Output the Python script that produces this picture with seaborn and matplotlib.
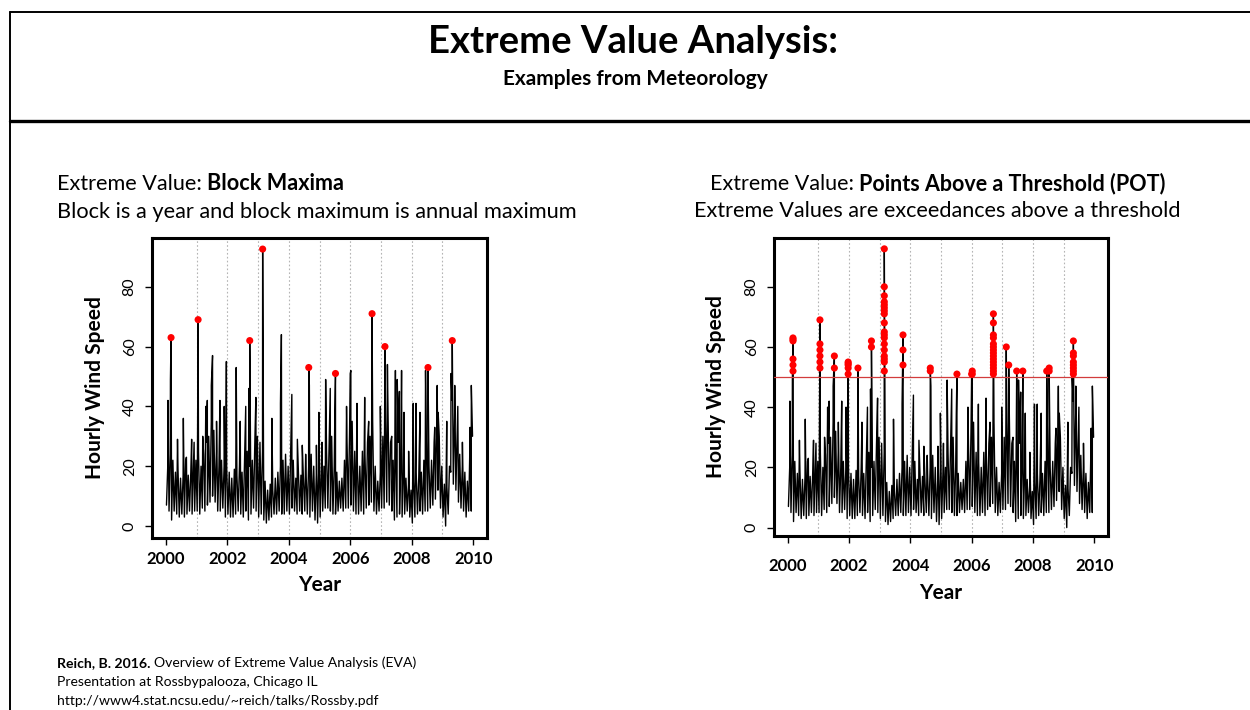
import numpy as np
import pandas as pd
import matplotlib
matplotlib.use("Agg")
import matplotlib.pyplot as plt
from matplotlib.lines import Line2D
import seaborn as sns

# ---------------- data ----------------
years = list(range(2000, 2010))

# monthly lower edge of the dense hourly band (120 months, 2000-2009)
band_lo = [
    7, 5, 2, 5, 4, 3, 4, 3, 4, 5, 4, 5,
    5, 4, 6, 5, 7, 8, 10, 8, 5, 5, 6, 3,
    4, 3, 3, 4, 5, 4, 3, 5, 2, 4, 6, 5,
    3, 4, 2, 1, 2, 3, 4, 4, 5, 4, 4, 5,
    4, 6, 5, 4, 5, 4, 5, 4, 3, 5, 2, 1,
    3, 5, 6, 6, 5, 4, 4, 5, 6, 5, 6, 6,
    7, 5, 4, 4, 5, 4, 6, 7, 8, 5, 4, 5,
    6, 6, 8, 7, 5, 2, 3, 4, 3, 4, 5, 3,
    1, 3, 4, 5, 4, 5, 5, 6, 7, 9, 12, 6,
    3, 0, 4, 18, 14, 12, 8, 6, 5, 3, 5, 5,
]
# monthly upper edge of the dense hourly band
band_hi = [
    20, 24, 22, 18, 19, 16, 17, 22, 17, 18, 20, 22,
    25, 20, 24, 28, 30, 35, 32, 25, 20, 22, 20, 20,
    18, 16, 19, 17, 20, 18, 22, 25, 20, 22, 28, 30,
    28, 25, 15, 12, 14, 12, 16, 18, 20, 22, 24, 20,
    25, 22, 16, 18, 17, 15, 18, 20, 24, 20, 17, 20,
    18, 20, 25, 28, 30, 20, 18, 15, 16, 22, 28, 32,
    35, 25, 22, 20, 25, 24, 28, 30, 35, 20, 15, 18,
    30, 35, 38, 28, 22, 26, 28, 22, 18, 16, 14, 12,
    15, 18, 16, 18, 22, 25, 20, 22, 28, 32, 30, 20,
    14, 13, 20, 42, 38, 30, 24, 20, 18, 15, 28, 30,
]

# isolated spikes of the hourly series
spike_year = [
    2000.07, 2000.15, 2000.17, 2000.38, 2000.57, 2000.67, 2000.84, 2000.92,
    2001.05, 2001.20, 2001.30, 2001.35, 2001.48, 2001.52, 2001.65, 2001.76, 2001.90, 2001.97,
    2002.29, 2002.42, 2002.60, 2002.70, 2002.73, 2002.93,
    2003.15, 2003.45, 2003.73, 2003.76,
    2004.10, 2004.28, 2004.44, 2004.55, 2004.65, 2004.67, 2004.90, 2004.98,
    2005.08, 2005.20, 2005.35, 2005.50, 2005.52, 2005.88, 2006.00,
    2006.02, 2006.22, 2006.47, 2006.60, 2006.71, 2006.98,
    2007.13, 2007.21, 2007.35, 2007.47, 2007.53, 2007.60, 2007.67, 2007.75, 2007.90,
    2008.05, 2008.14, 2008.27, 2008.45, 2008.53, 2008.75, 2008.83, 2008.86,
    2009.14, 2009.28, 2009.32, 2009.40, 2009.50, 2009.65, 2009.90, 2009.94,
]
spike_speed = [
    42, 49, 63, 29, 36, 23, 29, 28,
    69, 30, 40, 42, 47, 57, 35, 42, 40, 55,
    53, 35, 40, 46, 62, 43,
    92.6, 36, 41, 64,
    44, 29, 27, 24, 53, 47, 27, 38,
    28, 49, 46, 38, 51, 40, 51,
    52, 41, 43, 35, 71, 40,
    60, 54, 30, 52, 49, 45, 52, 38, 25,
    41, 41, 38, 52, 53, 33, 47, 38,
    35, 51, 62, 47, 40, 28, 33, 47,
]

# annual maxima (block maxima)
max_year = [2000.17, 2001.05, 2002.73, 2003.15, 2004.65, 2005.52, 2006.71, 2007.13, 2008.53, 2009.32]
max_speed = [63, 69, 62, 92.6, 53, 51, 71, 60, 53, 62]

# exceedances above the threshold (POT)
threshold = 50
pot_year = (
    [2000.17] * 6 + [2001.05] * 6 + [2001.52] * 2 + [2001.97] * 5 + [2002.29] + [2002.73] * 2
    + [2003.15] * 18 + [2003.76] * 3 + [2004.65] * 2 + [2005.52] + [2006.00] + [2006.02] * 2
    + [2006.71] * 15 + [2007.13] + [2007.21] + [2007.47] + [2007.67] + [2008.45] + [2008.53] * 2
    + [2009.32] * 8
)
pot_speed = (
    [63, 62.5, 62, 56, 54, 52]
    + [69, 61, 59, 57, 55, 53]
    + [57, 53]
    + [55, 54.5, 54, 53, 51]
    + [53]
    + [62, 60]
    + [92.6, 80, 77, 75, 74, 73, 72, 71, 68, 65, 64, 63, 61, 59, 57, 56, 55, 52]
    + [64, 59, 54]
    + [53, 52]
    + [51]
    + [51]
    + [52, 51]
    + [71, 68, 64, 63, 61, 60, 59, 58, 57, 56, 55, 54, 53, 52, 51]
    + [60]
    + [54]
    + [52]
    + [52]
    + [52]
    + [53, 52]
    + [62, 58, 57, 55, 54, 53, 52, 51]
)

x_ticks = [2000, 2002, 2004, 2006, 2008, 2010]
y_ticks = [0, 20, 40, 60, 80]
grid_years = list(range(2001, 2010))

# ---------------- build the hourly-like series ----------------
n_months = len(band_lo)
t_lo = [2000 + (i + 0.25) / 12 for i in range(n_months)]
t_hi = [2000 + (i + 0.75) / 12 for i in range(n_months)]
series = pd.DataFrame({
    "year": t_lo + t_hi + spike_year,
    "speed": band_lo + band_hi + spike_speed,
}).sort_values("year").reset_index(drop=True)

max_df = pd.DataFrame({"year": max_year, "speed": max_speed})
pot_df = pd.DataFrame({"year": pot_year, "speed": pot_speed})

# ---------------- figure ----------------
sns.set_theme(style="white")
plt.rcParams["font.family"] = ["Lato", "DejaVu Sans"]
plt.rcParams["text.color"] = "black"
plt.rcParams["axes.labelcolor"] = "black"
plt.rcParams["xtick.color"] = "black"
plt.rcParams["ytick.color"] = "black"

W, H = 1250, 710
fig = plt.figure(figsize=(W / 100, H / 100), dpi=100)
fig.patch.set_facecolor("white")


def fx(px):
    return px / W


def fy(py):
    return 1 - py / H


# slide frame lines
fig.add_artist(Line2D([fx(10), 1.0], [fy(12), fy(12)], color="black", lw=1.4))
fig.add_artist(Line2D([fx(10), fx(10)], [fy(12), 0.0], color="black", lw=1.4))
fig.add_artist(Line2D([fx(10), 1.0], [fy(121), fy(121)], color="black", lw=2.4))

fig.text(fx(633), fy(42), "Extreme Value Analysis:", ha="center", va="center",
         fontsize=27.5, fontweight="bold")
fig.text(fx(635), fy(79), "Examples from Meteorology", ha="center", va="center",
         fontsize=15, fontweight="bold")

renderer = fig.canvas.get_renderer()


def rich_line(parts, x_px, y_px, size, align="left", gap=5):
    widths = []
    for txt, wt in parts:
        t = fig.text(0, 0, txt, fontsize=size, fontweight=wt)
        widths.append(t.get_window_extent(renderer).width)
        t.remove()
    total = sum(widths) + gap * (len(parts) - 1)
    x0 = x_px - total / 2 if align == "center" else x_px
    for (txt, wt), w in zip(parts, widths):
        fig.text(fx(x0), fy(y_px), txt, fontsize=size, fontweight=wt, ha="left", va="center")
        x0 += w + gap


rich_line([("Extreme Value:", "normal"), ("Block Maxima", "bold")], 57, 184, 15.6)
rich_line([("Block is a year and block maximum is annual maximum", "normal")], 57, 212, 15.7)
rich_line([("Extreme Value:", "normal"), ("Points Above a Threshold (POT)", "bold")], 938, 184, 15.5,
          align="center")
rich_line([("Extreme Values are exceedances above a threshold", "normal")], 937, 211, 15.6,
          align="center")

rich_line([("Reich, B. 2016.", "bold"), ("Overview of Extreme Value Analysis (EVA)", "normal")], 57, 663, 10.1,
          gap=4)
rich_line([("Presentation at Rossbypalooza, Chicago IL", "normal")], 57, 682, 10.1)
rich_line([("http://www4.stat.ncsu.edu/~reich/talks/Rossby.pdf", "normal")], 57, 701, 10.1)

axL = fig.add_axes([fx(152), fy(538), 335 / W, 300 / H])
axR = fig.add_axes([fx(774), fy(536), 334 / W, 298 / H])

panels = [
    (axL, (-4.0, 96.3), 4, (318, 585), (95, 401)),
    (axR, (-2.8, 96.2), 11, (945, 593), (716, 406)),
]

for ax, ylim, xpad, xlab_pos, ylab_pos in panels:
    ax.set_facecolor("white")
    for gx in grid_years:
        ax.axvline(gx, color="#b4b4b4", lw=0.8, ls=(0, (1.5, 2)), zorder=0)
    sns.lineplot(data=series, x="year", y="speed", ax=ax, color="black", lw=1.0,
                 estimator=None, sort=False, zorder=2)
    ax.set_xlim(1999.55, 2010.45)
    ax.set_ylim(*ylim)
    ax.set_xticks(x_ticks, labels=[str(v) for v in x_ticks], fontsize=12, fontweight="bold")
    ax.set_yticks(y_ticks, labels=[str(v) for v in y_ticks], fontsize=11.5)
    ax.tick_params(axis="x", bottom=True, direction="out", length=5, width=1, color="black",
                   pad=xpad, labelcolor="black")
    ax.tick_params(axis="y", left=True, direction="out", length=5, width=1, color="black",
                   pad=6, labelcolor="black")
    for lbl in ax.get_yticklabels():
        lbl.set_rotation(90)
        lbl.set_va("center")
        lbl.set_ha("right")
    for sp in ax.spines.values():
        sp.set_color("black")
        sp.set_linewidth(2.2)
    ax.grid(False)
    x0, y0, w0, h0 = ax.get_position().bounds
    ax.set_xlabel("Year", fontsize=15, fontweight="bold", color="black")
    ax.set_ylabel("Hourly Wind Speed", fontsize=15, fontweight="bold", color="black")
    ax.xaxis.label.set_va("center")
    ax.yaxis.label.set_va("center")
    ax.xaxis.set_label_coords((xlab_pos[0] / W - x0) / w0, (fy(xlab_pos[1]) - y0) / h0)
    ax.yaxis.set_label_coords((ylab_pos[0] / W - x0) / w0, (fy(ylab_pos[1]) - y0) / h0)

sns.scatterplot(data=max_df, x="year", y="speed", ax=axL, color="red", s=26,
                edgecolor="none", zorder=5)
axR.axhline(threshold, color="#d23c3c", lw=0.9, zorder=3)
sns.scatterplot(data=pot_df, x="year", y="speed", ax=axR, color="red", s=26,
                edgecolor="none", zorder=5)
for ax in (axL, axR):
    ax.set_xlabel("Year", fontsize=15, fontweight="bold", color="black")
    ax.set_ylabel("Hourly Wind Speed", fontsize=15, fontweight="bold", color="black")

fig.savefig("out.png", dpi=100, facecolor="white")
